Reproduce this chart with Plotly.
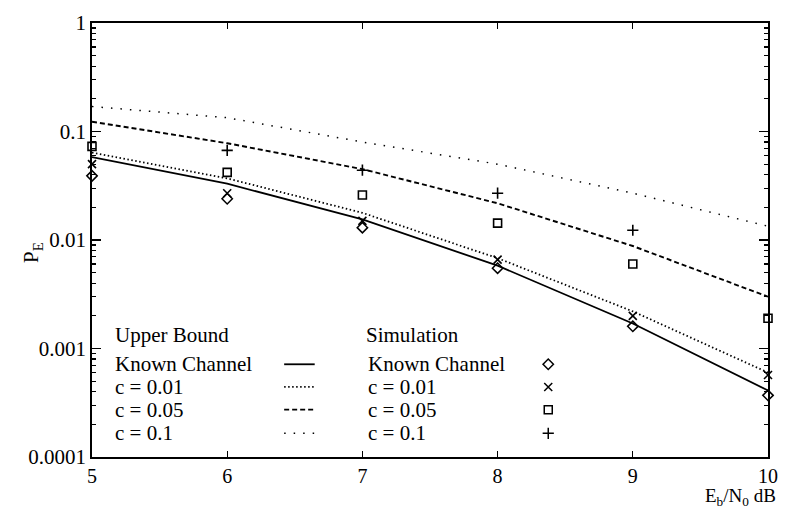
import plotly.graph_objects as go

ebn0 = [5, 6, 7, 8, 9, 10]

# Upper bounds
ub_known = [0.058, 0.033, 0.0155, 0.0058, 0.0017, 0.00041]
ub_c001 = [0.064, 0.037, 0.0178, 0.0068, 0.0022, 0.00060]
ub_c005 = [0.123, 0.078, 0.0450, 0.0218, 0.0088, 0.0030]
ub_c01 = [0.170, 0.134, 0.0800, 0.0500, 0.0270, 0.0134]

# Simulation points
sim_known = [0.039, 0.024, 0.0130, 0.0055, 0.0016, 0.00037]
sim_c001 = [0.050, 0.027, 0.0150, 0.0066, 0.0020, 0.00057]
sim_c005 = [0.073, 0.042, 0.0260, 0.0143, 0.0060, 0.0019]
sim_c01 = [None, 0.067, 0.0440, 0.0270, 0.0123, None]

legend_labels = ["Known Channel", "c = 0.01", "c = 0.05", "c = 0.1"]
y_tickvals = [1e-4, 1e-3, 1e-2, 0.1, 1]
y_ticktext = ["0.0001", "0.001", "0.01", "0.1", "1"]

FONT = "Liberation Serif"
W, H = 789, 512
L, R, T, B = 92, 11, 17, 55
PW, PH = W - L - R, H - T - B


def px(x):
    return (x - L) / PW


def py(y):
    return (H - B - y) / PH


line_styles = [
    dict(color="black", width=1.8, dash="solid"),
    dict(color="black", width=1.8, dash="1.5px,2.5px"),
    dict(color="black", width=1.9, dash="5px,3px"),
    dict(color="black", width=1.5, dash="1.5px,8px"),
]
marker_styles = [
    dict(symbol="diamond-open", size=8, color="black", line=dict(width=1.5, color="black")),
    dict(symbol="x-thin-open", size=8, color="black", line=dict(width=1.6, color="black")),
    dict(symbol="square-open", size=8, color="black", line=dict(width=1.6, color="black")),
    dict(symbol="cross-thin-open", size=8, color="black", line=dict(width=1.6, color="black")),
]

fig = go.Figure()
for ys, ls in zip([ub_known, ub_c001, ub_c005, ub_c01], line_styles):
    fig.add_trace(go.Scatter(x=ebn0, y=ys, mode="lines", line=ls, showlegend=False,
                             cliponaxis=False, hoverinfo="skip"))
for ys, ms in zip([sim_known, sim_c001, sim_c005, sim_c01], marker_styles):
    fig.add_trace(go.Scatter(x=ebn0, y=ys, mode="markers", marker=ms, showlegend=False,
                             cliponaxis=False, hoverinfo="skip"))

# legend (hand-built two-column key)
leg_rows_y = [363, 386, 409, 433]
fig.add_trace(go.Scatter(
    x=[px(555)] * 4, y=[py(v) for v in leg_rows_y], mode="markers",
    marker=dict(symbol=[m["symbol"] for m in marker_styles], size=8, color="black",
                line=dict(width=1.5, color="black")),
    xaxis="x2", yaxis="y2", showlegend=False, cliponaxis=False, hoverinfo="skip"))

annotations = []


def txt(x, y, s, size=21, xanchor="left"):
    annotations.append(dict(x=px(x), y=py(y), xref="paper", yref="paper", text=s,
                            showarrow=False, xanchor=xanchor, yanchor="middle",
                            font=dict(family=FONT, size=size, color="black")))


txt(113, 333, "Upper Bound")
txt(368, 333, "Simulation")
for lab, yy in zip(legend_labels, leg_rows_y):
    txt(113, yy, lab)
    txt(370, yy, lab)

shapes = []
for ls, yy in zip(line_styles, leg_rows_y):
    shapes.append(dict(type="line", xref="paper", yref="paper", x0=px(287), x1=px(318),
                       y0=py(yy), y1=py(yy), line=ls))

# axis titles
annotations.append(dict(x=px(16), y=py(250), xref="paper", yref="paper", text="P<sub>E</sub>",
                        showarrow=False, textangle=-90,
                        font=dict(family=FONT, size=21, color="black")))
annotations.append(dict(x=px(788), y=py(512), xref="paper", yref="paper",
                        text="E<sub>b</sub>/N<sub>0</sub> dB", showarrow=False,
                        xanchor="right", yanchor="bottom",
                        font=dict(family=FONT, size=19, color="black")))

minor_vals = [m * 10 ** e for e in range(-4, 0) for m in range(2, 10)]

fig.update_layout(
    width=W, height=H, margin=dict(l=L, r=R, t=T, b=B, pad=0),
    paper_bgcolor="white", plot_bgcolor="white",
    font=dict(family=FONT, size=21, color="black"),
    annotations=annotations, shapes=shapes,
    xaxis=dict(range=[5, 10], tickvals=ebn0, ticktext=[str(v) for v in ebn0],
               showline=True, linecolor="black", linewidth=1.8, mirror="ticks",
               ticks="inside", ticklen=6, tickwidth=1.3, tickcolor="black",
               showgrid=False, zeroline=False, tickfont=dict(family=FONT, size=20)),
    yaxis=dict(type="log", range=[-4, 0], tickvals=y_tickvals, ticktext=y_ticktext,
               showline=True, linecolor="black", linewidth=1.8, mirror="ticks",
               ticks="inside", ticklen=9, tickwidth=1.3, tickcolor="black",
               showgrid=False, zeroline=False,
               minor=dict(tickmode="array", tickvals=minor_vals, ticks="inside",
                          ticklen=4, tickwidth=1.2, tickcolor="black", showgrid=False),
               tickfont=dict(family=FONT, size=21)),
    xaxis2=dict(range=[0, 1], overlaying="x", visible=False),
    yaxis2=dict(range=[0, 1], overlaying="y", visible=False),
)

fig.write_html(
    "out.html",
    config={"displayModeBar": False, "staticPlot": True},
    post_script="document.body.style.margin='0';document.body.style.overflow='hidden';",
)
